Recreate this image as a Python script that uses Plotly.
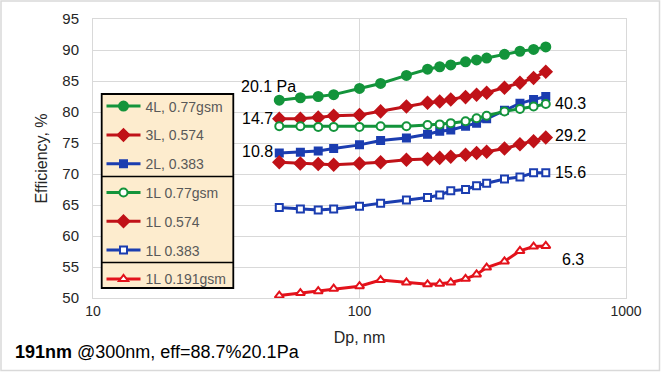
import numpy as np
import plotly.graph_objects as go

W, H = 661, 372
ML, MR, MT, MB = 93, 35, 19, 74
PW, PH = W - ML - MR, H - MT - MB

def px(xp):
    return (xp - ML) / PW

def py(yp):
    return 1 - (yp - MT) / PH

# ---- data ----
dp = [50, 60, 70, 80, 100, 120, 150, 180, 200, 220, 250, 275, 300, 350, 400, 450, 500]

eff_4L_077 = [81.9, 82.3, 82.5, 82.8, 83.8, 84.6, 85.9, 86.9, 87.3, 87.6, 88.1, 88.4, 88.7, 89.3, 89.8, 90.1, 90.5]
eff_3L_0574 = [78.9, 78.9, 79.1, 79.4, 79.5, 80.1, 80.9, 81.5, 81.7, 82.0, 82.4, 82.8, 83.1, 83.9, 84.7, 85.5, 86.5]
eff_2L_0383 = [73.4, 73.5, 73.7, 74.1, 74.7, 75.4, 75.8, 76.4, 76.9, 77.1, 77.7, 78.2, 78.9, 80.3, 81.4, 82.0, 82.5]
eff_1L_077 = [77.7, 77.7, 77.6, 77.6, 77.6, 77.7, 77.7, 77.9, 78.0, 78.2, 78.5, 79.0, 79.4, 80.1, 80.5, 80.9, 81.3]
eff_1L_0574 = [71.9, 71.7, 71.6, 71.5, 71.7, 71.9, 72.3, 72.4, 72.6, 72.8, 73.1, 73.4, 73.6, 74.1, 74.8, 75.3, 75.9]
eff_1L_0383 = [64.6, 64.35, 64.2, 64.35, 64.8, 65.3, 65.8, 66.2, 66.6, 67.3, 67.5, 68.1, 68.5, 69.2, 69.5, 70.2, 70.2]
eff_1L_0191 = [50.4, 50.8, 51.1, 51.5, 51.9, 52.9, 52.5, 52.2, 52.3, 52.5, 53.1, 53.8, 54.9, 55.9, 57.6, 58.3, 58.4]

series_names = ["4L, 0.77gsm", "3L, 0.574", "2L, 0.383", "1L 0.77gsm", "1L 0.574", "1L 0.383", "1L 0.191gsm"]
series_vals = [eff_4L_077, eff_3L_0574, eff_2L_0383, eff_1L_077, eff_1L_0574, eff_1L_0383, eff_1L_0191]
pressure_labels = ["20.1 Pa", "14.7", "10.8", "40.3", "29.2", "15.6", "6.3"]

x_ticks = [10, 100, 1000]
y_ticks = list(range(50, 96, 5))

GREEN = "#13943b"
DRED = "#c01218"
BLUE = "#1b3db0"
RED = "#e3121b"

styles = [
    dict(color=GREEN, symbol="circle", size=9, fill=GREEN),
    dict(color=DRED, symbol="diamond", size=9, fill=DRED),
    dict(color=BLUE, symbol="square", size=7, fill=BLUE),
    dict(color=GREEN, symbol="circle", size=8, fill="white"),
    dict(color=DRED, symbol="diamond", size=9, fill=DRED),
    dict(color=BLUE, symbol="square", size=7, fill="white"),
    dict(color=RED, symbol="triangle-up", size=8, fill="white"),
]

fig = go.Figure()
for i, (name, vals, st) in enumerate(zip(series_names, series_vals, styles)):
    fig.add_trace(go.Scatter(
        x=dp, y=vals, name=name, mode="lines+markers", legendgroup=f"g{i}",
        line=dict(color=st["color"], width=3),
        marker=dict(symbol=st["symbol"], size=st["size"], color=st["fill"],
                    line=dict(color=st["color"], width=2)),
    ))

# pressure drop labels
ann_specs = [
    (0, 0, "center", -11, 14),
    (1, 0, "right", -4, 0),
    (2, 0, "right", -4, 1),
    (3, -1, "left", 7, 0),
    (4, -1, "left", 7, 2),
    (5, -1, "left", 7, 0),
    (6, -1, "left", 14, -14),
]
annotations = []
for si, idx, anchor, xs, ys in ann_specs:
    annotations.append(dict(
        x=np.log10(dp[idx]), y=series_vals[si][idx], xref="x", yref="y",
        text=pressure_labels[si], showarrow=False, xanchor=anchor, yanchor="middle",
        xshift=xs, yshift=ys, font=dict(size=16, color="#000000"),
    ))

annotations.append(dict(
    x=px(13), y=py(352), xref="paper", yref="paper", xanchor="left", yanchor="middle",
    text="<b>191nm</b> @300nm, eff=88.7%20.1Pa", showarrow=False,
    font=dict(size=18, color="#000000"),
))

LG_L, LG_R, LG_T, LG_B = 101.7, 233.3, 94, 288
shapes = [
    # outer chart border
    dict(type="rect", xref="paper", yref="paper", x0=px(1), x1=px(W - 1.5), y0=py(H - 1.5), y1=py(1),
         line=dict(color="#d9d9d9", width=1.5), layer="below"),
    # legend box
    dict(type="rect", xref="paper", yref="paper", x0=px(LG_L), x1=px(LG_R), y0=py(LG_B), y1=py(LG_T),
         fillcolor="#fdecce", line=dict(color="#000000", width=1.8), layer="above"),
    # legend dividers
    dict(type="line", xref="paper", yref="paper", x0=px(LG_L), x1=px(LG_R), y0=py(176.5), y1=py(176.5),
         line=dict(color="#000000", width=1.5), layer="above"),
    dict(type="line", xref="paper", yref="paper", x0=px(LG_L), x1=px(LG_R), y0=py(262.5), y1=py(262.5),
         line=dict(color="#000000", width=1.5), layer="above"),
]

fig.update_layout(
    width=W, height=H,
    margin=dict(l=ML, r=MR, t=MT, b=MB, pad=0, autoexpand=False),
    paper_bgcolor="white", plot_bgcolor="white",
    font=dict(family="Liberation Sans, Arial, sans-serif", color="#262626"),
    showlegend=True,
    legend=dict(
        x=px(101.5), y=py(90.5), xanchor="left", yanchor="top",
        bgcolor="rgba(0,0,0,0)", borderwidth=0, itemwidth=34,
        font=dict(size=14, color="#595959"),
        tracegroupgap=7.6, traceorder="grouped",
    ),
    annotations=annotations,
    shapes=shapes,
)
fig.update_xaxes(
    type="log", range=[1, 3], tickvals=x_ticks, ticktext=[str(v) for v in x_ticks],
    showgrid=True, gridcolor="#d9d9d9", gridwidth=1,
    showline=True, linecolor="#d9d9d9", linewidth=1, mirror=True,
    ticks="", tickfont=dict(size=14, color="#262626"), automargin=False,
    title=dict(text="Dp, nm", font=dict(size=16, color="#262626"), standoff=14),
    zeroline=False,
)
fig.update_yaxes(
    range=[50, 95], tickvals=y_ticks,
    showgrid=True, gridcolor="#d9d9d9", gridwidth=1,
    showline=True, linecolor="#d9d9d9", linewidth=1, mirror=True,
    ticks="", ticklabelstandoff=10, tickfont=dict(size=15, color="#262626"), automargin=False,
    title=dict(text="Efficiency, %", font=dict(size=16, color="#262626"), standoff=10),
    zeroline=False,
)

fig.write_html("out.html", config={"displayModeBar": False},
               post_script="document.body.style.margin='0';")
